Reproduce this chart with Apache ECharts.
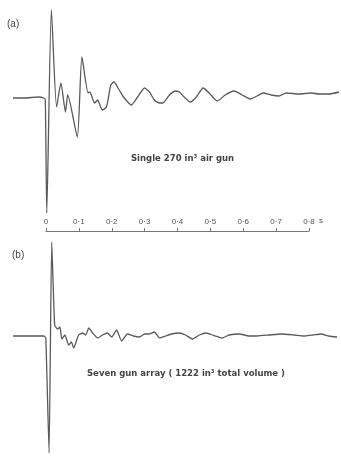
<!DOCTYPE html>
<html>
<head>
<meta charset="utf-8">
<script src="https://cdn.jsdelivr.net/npm/echarts@6/dist/echarts.min.js"></script>
<style>
  html, body { margin: 0; padding: 0; background: #fff; }
  #chart { width: 341px; height: 456px; }
</style>
</head>
<body>
<div id="chart"></div>
<script>
// time in seconds, amplitude in relative units (baseline = 0)
const timeA = [-0.1, -0.064, -0.024, -0.006, -0.0015, 0.003, 0.017, 0.033, 0.046, 0.06, 0.067, 0.096, 0.11, 0.129, 0.134, 0.149, 0.158, 0.172, 0.185, 0.198, 0.208, 0.222, 0.237, 0.261, 0.28, 0.301, 0.316, 0.331, 0.347, 0.356, 0.377, 0.395, 0.407, 0.422, 0.441, 0.459, 0.48, 0.498, 0.523, 0.547, 0.574, 0.599, 0.623, 0.644, 0.663, 0.687, 0.711, 0.733, 0.772, 0.809, 0.833, 0.863, 0.894]
const ampA = [0, 0, 1, 0, -2, -115, 88, -9, 15, -14, 3, -39, 41, 5, 6, -5, -2, -12, -9, 13, 16, 9, 1, -7, 1, 10, 6, -2, -5, -5, 3, 7, 6, 1, -4, 1, 10, 5, -3, 3, 7, 3, -1, 2, 5, 3, 2, 5, 4, 5, 4, 4, 6]

const timeB = [-0.1, -0.006, 0, 0.01, 0.018, 0.027, 0.036, 0.043, 0.049, 0.058, 0.07, 0.078, 0.085, 0.1, 0.112, 0.122, 0.131, 0.143, 0.158, 0.173, 0.188, 0.201, 0.216, 0.231, 0.249, 0.267, 0.286, 0.301, 0.316, 0.331, 0.347, 0.365, 0.383, 0.407, 0.426, 0.447, 0.468, 0.489, 0.508, 0.538, 0.559, 0.59, 0.62, 0.644, 0.681, 0.717, 0.757, 0.787, 0.815, 0.839, 0.863, 0.888]
const ampB = [0, 0, -2, -117, 94, 11, 7, 9, -3, 1, -9, -6, -12, 1, 3, 1, 8, 3, -2, 1, 3, -1, 6, -5, 2, 0, -1, 2, 2, 4, -2, 0, 2, 3, 1, -3, 1, 3, 1, -2, 1, 2, 0, 0, 1, 2, 1, 0, 1, 2, 0, -1]

const timeTicks = [0, 0.1, 0.2, 0.3, 0.4, 0.5, 0.6, 0.7, 0.8]

const captionA = 'Single 270 in³ air gun'
const captionB = 'Seven gun array ( 1222 in³ total volume )'

const pair = (t, a) => t.map((v, i) => [v, a[i]])
const traceColor = '#5a5a5a'
const labelFont = 'Liberation Sans, Arial, sans-serif'
const captionFont = 'DejaVu Sans, sans-serif'

const chart = echarts.init(document.getElementById('chart'))

chart.setOption({
  animation: false,
  grid: [
    { left: 13, width: 329, top: 8, height: 210 },
    { left: 13, width: 329, top: 241, height: 215 },
    { left: 46, width: 263, top: 230, height: 1 }
  ],
  xAxis: [
    { gridIndex: 0, type: 'value', min: -0.1, max: 0.9, show: false },
    { gridIndex: 1, type: 'value', min: -0.1, max: 0.9, show: false },
    {
      gridIndex: 2,
      type: 'value',
      min: timeTicks[0],
      max: timeTicks[timeTicks.length - 1],
      interval: 0.1,
      position: 'bottom',
      splitLine: { show: false },
      axisLine: { lineStyle: { color: '#777', width: 1 } },
      axisTick: { inside: true, length: 3, lineStyle: { color: '#777' } },
      axisLabel: {
        inside: true,
        margin: 5,
        color: '#555',
        fontSize: 8,
        fontFamily: labelFont,
        formatter: (v) => (v === 0 ? '0' : v.toFixed(1).replace('.', '·'))
      }
    }
  ],
  yAxis: [
    { gridIndex: 0, type: 'value', min: -120, max: 90, show: false },
    { gridIndex: 1, type: 'value', min: -120, max: 95, show: false },
    { gridIndex: 2, type: 'value', min: 0, max: 1, show: false }
  ],
  series: [
    {
      type: 'line',
      xAxisIndex: 0,
      yAxisIndex: 0,
      data: pair(timeA, ampA),
      showSymbol: false,
      smooth: 0.2,
      lineStyle: { color: traceColor, width: 1.3 }
    },
    {
      type: 'line',
      xAxisIndex: 1,
      yAxisIndex: 1,
      data: pair(timeB, ampB),
      showSymbol: false,
      smooth: 0.15,
      lineStyle: { color: traceColor, width: 1.3 }
    }
  ],
  graphic: [
    { type: 'text', left: 7, top: 19, style: { text: '(a)', fontSize: 10, fontFamily: labelFont, fill: '#444' } },
    { type: 'text', left: 12, top: 250, style: { text: '(b)', fontSize: 10, fontFamily: labelFont, fill: '#444' } },
    { type: 'text', left: 319, top: 217, style: { text: 's', fontSize: 8, fontFamily: labelFont, fill: '#555' } },
    { type: 'text', left: 131, top: 154, style: { text: captionA, fontSize: 8.5, fontWeight: 'bold', fontFamily: captionFont, fill: '#444' } },
    { type: 'text', left: 87, top: 369, style: { text: captionB, fontSize: 8.5, fontWeight: 'bold', fontFamily: captionFont, fill: '#444' } }
  ]
})
</script>
</body>
</html>
